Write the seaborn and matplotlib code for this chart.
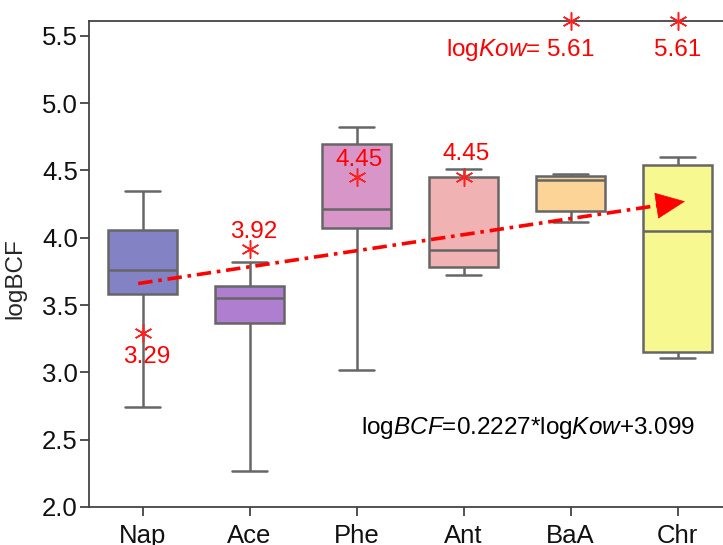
import matplotlib
matplotlib.use("Agg")
import matplotlib.pyplot as plt
import seaborn as sns
import pandas as pd
import numpy as np

# ---- data ----
categories = ["Nap", "Ace", "Phe", "Ant", "BaA", "Chr"]
whisker_low = [2.74, 2.27, 3.02, 3.72, 4.12, 3.11]
q1 = [3.58, 3.37, 4.07, 3.78, 4.20, 3.15]
median = [3.76, 3.55, 4.21, 3.91, 4.43, 4.05]
q3 = [4.06, 3.64, 4.70, 4.45, 4.46, 4.54]
whisker_high = [4.35, 3.82, 4.82, 4.51, 4.47, 4.60]
logkow = [3.29, 3.92, 4.45, 4.45, 5.61, 5.61]
logkow_labels = ["3.29", "3.92", "4.45", "4.45", "log$\\mathit{Kow}$= 5.61", "5.61"]
trend_x = [-0.04, 5.07]
trend_y = [3.66, 4.27]
equation = "log$\\mathit{BCF}$=0.2227*log$\\mathit{Kow}$+3.099"
colors = ["#8282c4", "#b07ed0", "#d896c8", "#f0b2b2", "#fcd498", "#f8f890"]

rows = []
for c, a, b, m, d, e in zip(categories, whisker_low, q1, median, q3, whisker_high):
    for v in (a, b, m, d, e):
        rows.append({"cat": c, "logBCF": v})
df = pd.DataFrame(rows)

sns.set_style("ticks")
plt.rcParams["font.family"] = ["Liberation Sans", "DejaVu Sans"]
plt.rcParams["mathtext.fontset"] = "custom"
plt.rcParams["mathtext.rm"] = "Liberation Sans"
plt.rcParams["mathtext.it"] = "Liberation Sans:italic"

fig = plt.figure(figsize=(7.23, 5.45), dpi=100)
ax = fig.add_axes([89 / 723, 1 - 507 / 545, (731 - 89) / 723, (507 - 21) / 545])

sns.boxplot(data=df, x="cat", y="logBCF", hue="cat", order=categories,
            hue_order=categories, palette=colors, saturation=1, whis=(0, 100),
            width=0.65, linecolor="#666666", linewidth=1.8, legend=False, ax=ax)

# logKow markers and labels
xs = np.arange(len(categories))
ax.plot(xs, logkow, linestyle="none", marker=(6, 2, 0), markersize=13,
        markeredgewidth=1.1, color="#ff2020", clip_on=False, zorder=5)
offsets = [(3, -17), (3, 12), (2, 12), (2, 17), (17, -21), (0, -21)]
for i, (lab, off) in enumerate(zip(logkow_labels, offsets)):
    ha = "right" if i == 4 else "center"
    ax.annotate(lab, xy=(xs[i], logkow[i]), xytext=off, textcoords="offset points",
                ha=ha, va="center", color="#ff0000", fontsize=17.5, zorder=6)

# trend line (dash-dot) with solid arrow head
frac = 0.965
mid = (trend_x[0] + frac * (trend_x[1] - trend_x[0]),
       trend_y[0] + frac * (trend_y[1] - trend_y[0]))
ax.plot([trend_x[0], mid[0]], [trend_y[0], mid[1]], color="#ff0000", lw=2.6,
        dashes=(4, 1.6, 1, 1.6), zorder=6)
ax.annotate("", xy=(trend_x[1], trend_y[1]), xytext=mid,
            arrowprops=dict(arrowstyle="-|>,head_length=1.0,head_width=0.45",
                            color="#ff0000", lw=0.5, mutation_scale=20,
                            shrinkA=0, shrinkB=0),
            zorder=6)

ax.text(2.04, 2.59, equation, fontsize=17.5, ha="left", va="center", color="black")

ax.set_xlim(-0.5, 5.5)
ax.set_ylim(2.0, 5.61)
ax.set_yticks(np.arange(2.0, 5.51, 0.5))
ax.set_yticklabels([f"{v:.1f}" for v in np.arange(2.0, 5.51, 0.5)])
ax.set_xlabel("")
ax.set_ylabel("logBCF", fontsize=17.5)
ax.yaxis.set_label_coords(-0.097, 0.47)

for s in ax.spines.values():
    s.set_color("#444444")
    s.set_linewidth(1.3)
    s.set_visible(True)
ax.tick_params(axis="both", labelsize=18.5, colors="#111111", length=6.5,
               width=1.3, color="#444444")
ax.tick_params(axis="y", pad=1.5)
ax.tick_params(axis="x", pad=6)

fig.savefig("out.png", dpi=100)
